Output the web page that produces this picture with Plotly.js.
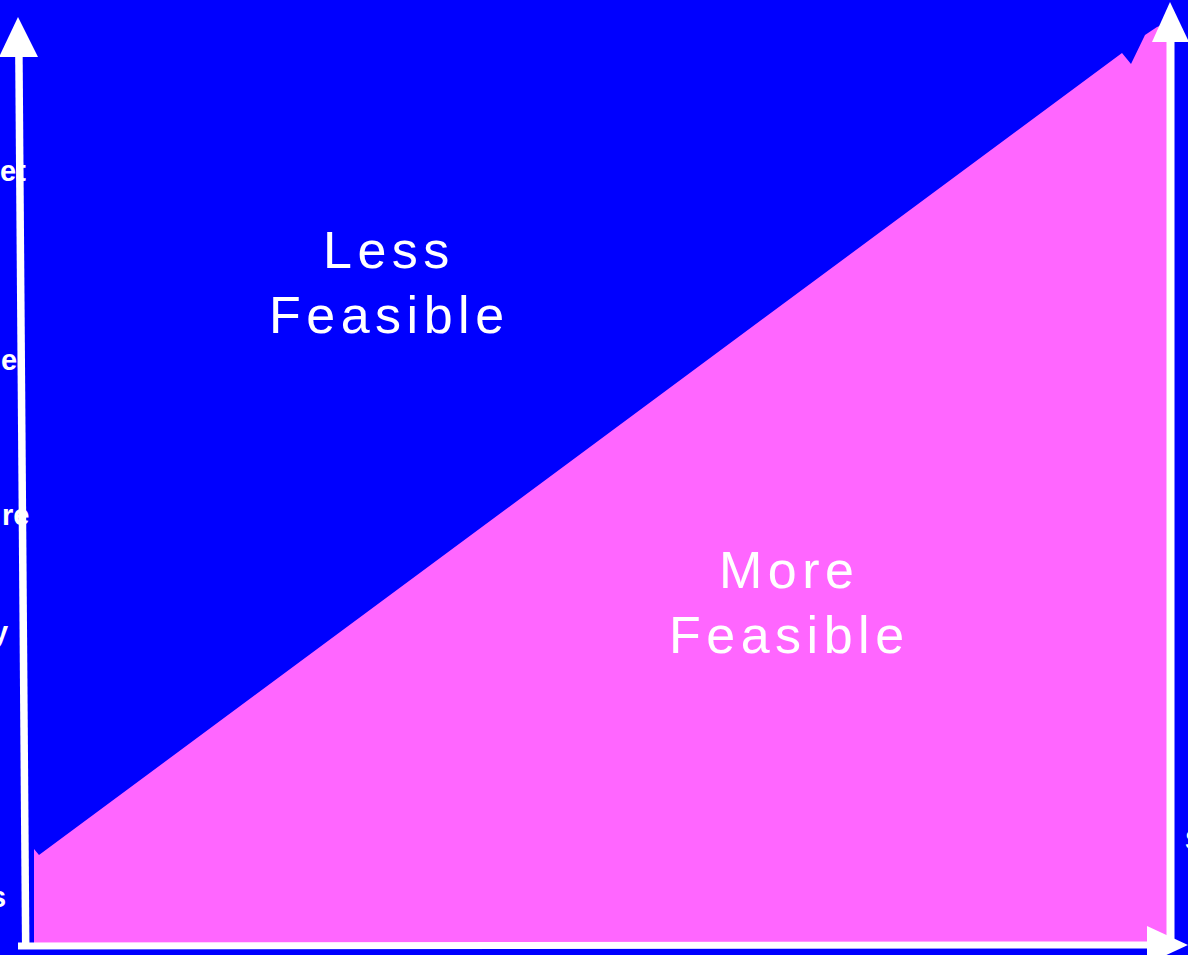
<!DOCTYPE html>
<html>
<head>
<meta charset="utf-8">
<script src="https://cdn.plot.ly/plotly-3.0.1.min.js"></script>
<style>
  html, body { margin: 0; padding: 0; background: #0000FF; overflow: hidden; }
  #chart { width: 1188px; height: 955px; }
</style>
</head>
<body>
<div id="chart"></div>
<script>
// ---- Data (pixel-space coordinates of the feasibility frontier, y grows downward) ----
const frontierX = [34, 34, 39, 1122, 1131, 1145, 1157, 1170];
const frontierY = [944, 849, 855, 53, 64, 35, 27, 22];
const baseCornerX = [1170, 34];
const baseCornerY = [944, 944];

// axis arrows
const leftShaftX = [25.7, 18.9];
const leftShaftY = [946, 55];
const leftHeadX = [-1, 38, 18, -1];
const leftHeadY = [57, 57, 17, 57];

const bottomShaftX = [18, 1150];
const bottomShaftY = [946, 945];
const bottomHeadX = [1147, 1188, 1147, 1147];
const bottomHeadY = [926, 945, 964, 926];

const rightShaftX = [1170.5, 1170.5];
const rightShaftY = [948, 40];
const rightHeadX = [1152, 1189, 1170, 1152];
const rightHeadY = [42, 42, 2, 42];

// text
const regionLabels = ["Less", "Feasible", "More", "Feasible"];
const regionLabelX = [389, 389, 789, 789];
const regionLabelY = [250, 315, 570, 635];

const sideLabels = ["et", "e", "re", "y", "s", "S"];
const sideLabelX = [26, 17, 29, 8, 6, 1185];
const sideLabelY = [171, 360, 515, 632, 897, 840];
const sideLabelAnchor = ["right", "right", "right", "right", "right", "left"];

const BLUE = "#0000FF";
const PINK = "#FF66FF";
const WHITE = "#FFFFFF";

const polyX = frontierX.concat(baseCornerX);
const polyY = frontierY.concat(baseCornerY);

const traces = [
  { x: polyX, y: polyY, mode: "lines", fill: "toself", fillcolor: PINK, line: { width: 0, color: PINK }, hoverinfo: "skip" },
  { x: leftShaftX, y: leftShaftY, mode: "lines", line: { width: 7.5, color: WHITE }, hoverinfo: "skip" },
  { x: bottomShaftX, y: bottomShaftY, mode: "lines", line: { width: 7, color: WHITE }, hoverinfo: "skip" },
  { x: rightShaftX, y: rightShaftY, mode: "lines", line: { width: 8, color: WHITE }, hoverinfo: "skip" },
  { x: leftHeadX, y: leftHeadY, mode: "lines", fill: "toself", fillcolor: WHITE, line: { width: 0, color: WHITE }, hoverinfo: "skip" },
  { x: bottomHeadX, y: bottomHeadY, mode: "lines", fill: "toself", fillcolor: WHITE, line: { width: 0, color: WHITE }, hoverinfo: "skip" },
  { x: rightHeadX, y: rightHeadY, mode: "lines", fill: "toself", fillcolor: WHITE, line: { width: 0, color: WHITE }, hoverinfo: "skip" }
];

const annotations = [];
regionLabels.forEach((t, i) => {
  annotations.push({
    text: t, x: regionLabelX[i], y: regionLabelY[i], xref: "x", yref: "y",
    showarrow: false, xanchor: "center", yanchor: "middle",
    font: { family: "Liberation Sans, Arial, sans-serif", size: 52, color: WHITE },
    borderpad: 0, borderwidth: 0
  });
});
sideLabels.forEach((t, i) => {
  annotations.push({
    text: t, x: sideLabelX[i], y: sideLabelY[i], xref: "x", yref: "y",
    showarrow: false, xanchor: sideLabelAnchor[i], yanchor: "middle",
    font: { family: "Liberation Sans, Arial, sans-serif", size: 29, color: WHITE, weight: "bold" },
    borderpad: 0, borderwidth: 0
  });
});

const layout = {
  width: 1188, height: 955,
  margin: { l: 0, r: 0, t: 0, b: 0, pad: 0 },
  paper_bgcolor: BLUE, plot_bgcolor: BLUE,
  showlegend: false,
  xaxis: { range: [0, 1188], visible: false, fixedrange: true },
  yaxis: { range: [955, 0], visible: false, fixedrange: true },
  annotations: annotations
};

Plotly.newPlot("chart", traces, layout, { displayModeBar: false, staticPlot: true }).then(() => {
  const texts = document.querySelectorAll("#chart .annotation-text");
  texts.forEach((el, i) => {
    if (i < regionLabels.length) el.style.letterSpacing = "5.5px";
  });
});
</script>
</body>
</html>
